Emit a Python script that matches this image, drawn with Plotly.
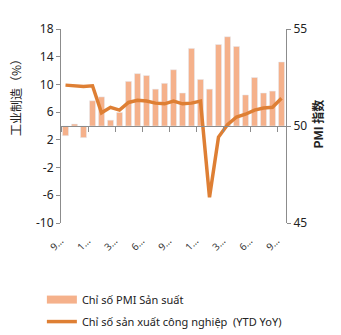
import plotly.graph_objects as go

months = ["2019-09", "2019-10", "2019-11", "2019-12", "2020-01", "2020-02", "2020-03",
          "2020-04", "2020-05", "2020-06", "2020-07", "2020-08", "2020-09", "2020-10",
          "2020-11", "2020-12", "2021-01", "2021-02", "2021-03", "2021-04", "2021-05",
          "2021-06", "2021-07", "2021-08", "2021-09"]
pmi = [49.5, 50.1, 49.4, 51.3, 51.5, 50.3, 50.7, 52.3, 52.7, 52.6, 51.9, 52.2, 52.9,
       51.7, 54.0, 52.4, 51.9, 54.2, 54.6, 54.1, 51.6, 52.5, 51.7, 51.8, 53.3]
iip = [9.9, 9.8, 9.7, 9.8, 5.9, 6.7, 6.3, 7.4, 7.7, 7.6, 7.3, 7.2, 7.6, 7.2, 7.3, 7.6,
       -6.3, 2.4, 4.2, 5.3, 5.7, 6.3, 6.6, 6.7, 8.0]
tick_cats = months[::3]
tick_text = ["9…", "1…", "3…", "6…", "9…", "1…", "3…", "6…", "9…"]
left_ticks = [-10, -6, -2, 2, 6, 10, 14, 18]
left_tick_text = ["-10", "-6", "-2", "2", "6", "10", "14", "18"]

pmi_name = "Chỉ số PMI Sản suất"
iip_name = "Chỉ số sản xuất công nghiệp  (YTD YoY)"
left_title = "工业制造（%）"
right_title = "<b>PMI 指数</b>"

bar_color = "#F5B18B"
line_color = "#DE7F34"
axis_color = "#8C8C8C"
font = "Noto Sans"

fig = go.Figure()
fig.add_trace(go.Bar(x=months, y=[v - 50 for v in pmi], base=50, marker_color=bar_color,
                     xaxis="x", yaxis="y2", showlegend=False, name=pmi_name))
fig.add_trace(go.Scatter(x=months, y=iip, mode="lines", line=dict(color=line_color, width=3.5),
                         xaxis="x2", yaxis="y", showlegend=False, name=iip_name))
# legend entries
fig.add_trace(go.Scatter(x=[None], y=[None], mode="lines", line=dict(color=bar_color, width=8),
                         name=pmi_name, legendgroup="a", xaxis="x", yaxis="y"))
fig.add_trace(go.Scatter(x=[None], y=[None], mode="lines", line=dict(color=line_color, width=3.5),
                         name=iip_name, legendgroup="b", xaxis="x", yaxis="y"))

fig.update_layout(
    width=341, height=335,
    margin=dict(l=61, r=55, t=29, b=112, autoexpand=False),
    paper_bgcolor="white", plot_bgcolor="white",
    font=dict(family=font, size=11, color="#222222"),
    bargap=0.33,
    xaxis=dict(type="category", range=[-0.5, len(months) - 0.5], showline=False,
               tickmode="array", tickvals=tick_cats, ticktext=tick_text, tickangle=-45,
               ticks="", ticklabelstandoff=9, ticklabelshift=-5,
               showgrid=False, zeroline=False,
               tickfont=dict(size=10, color="#333333")),
    xaxis2=dict(type="category", range=[-0.5, len(months) - 0.5], overlaying="x",
                anchor="free", position=0.5, showline=True, linecolor=axis_color,
                tickmode="array", tickvals=tick_cats, tickson="boundaries",
                ticks="outside", ticklen=5, tickcolor=axis_color,
                showticklabels=False, showgrid=False, zeroline=False),
    yaxis=dict(range=[-10, 18], tickmode="array", tickvals=left_ticks, ticktext=left_tick_text,
               showline=True, linecolor=axis_color,
               ticks="outside", ticklen=4, tickcolor=axis_color, showgrid=False,
               zeroline=False, tickfont=dict(size=12)),
    yaxis2=dict(range=[45, 55], dtick=5, overlaying="y", side="right", anchor="x",
                showline=True, linecolor=axis_color, ticks="outside", ticklen=4,
                tickcolor=axis_color, showgrid=False, zeroline=False,
                tickfont=dict(size=12)),
    legend=dict(orientation="v", x=-0.085, xanchor="left", y=-0.32, yanchor="top",
                font=dict(size=11, color="#222222"), tracegroupgap=3,
                traceorder="grouped",
                itemwidth=30, bgcolor="rgba(0,0,0,0)"),
    annotations=[
        dict(text=left_title, x=-0.2, y=0.66, xref="paper", yref="paper", textangle=-90,
             showarrow=False, font=dict(size=12, family="Noto Sans CJK SC", color="#222222"),
             xanchor="center", yanchor="middle"),
        dict(text=right_title, x=1.14, y=0.51, xref="paper", yref="paper", textangle=-90,
             showarrow=False, font=dict(size=12, family="Noto Sans CJK SC", color="#222222"),
             xanchor="center", yanchor="middle"),
    ],
)

fig.write_html("out.html")
